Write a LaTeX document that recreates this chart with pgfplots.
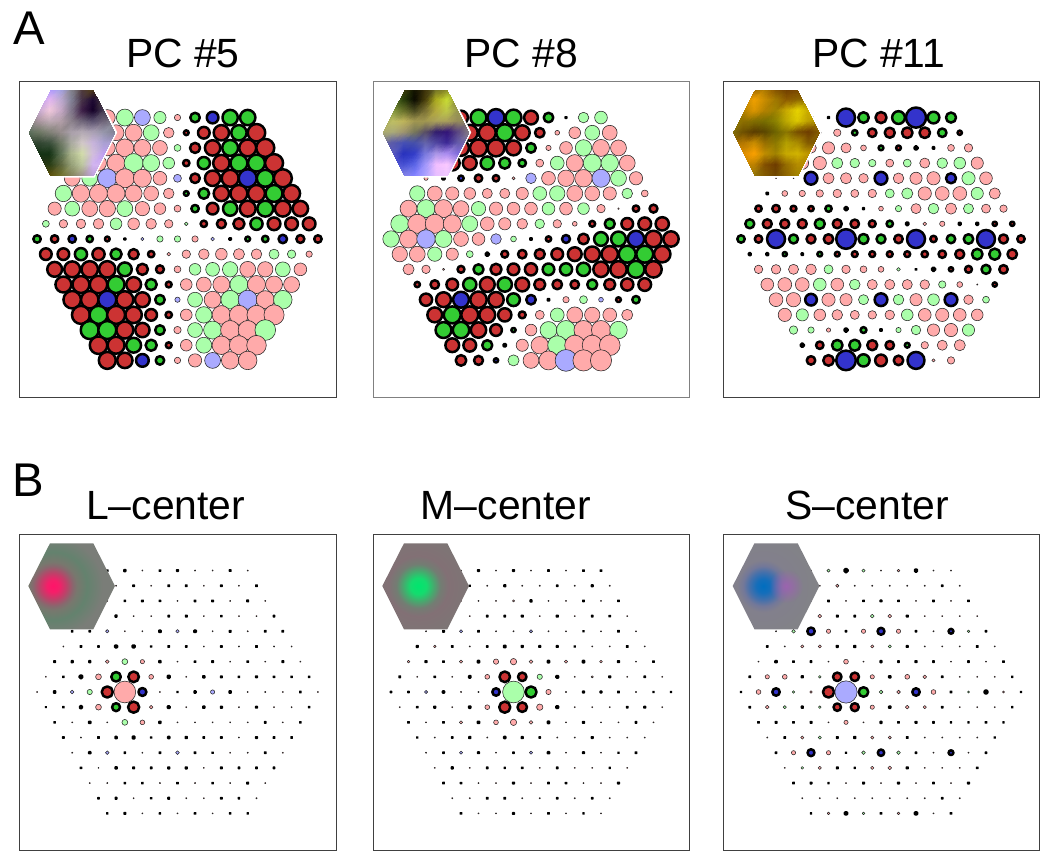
\documentclass[border=0pt]{standalone}
\usepackage{pgfplots}
\pgfplotsset{compat=1.18}
\usetikzlibrary{fadings}
\usepackage{fontspec}
\setmainfont{Liberation Sans}
\definecolor{cR}{RGB}{204,51,51}
\definecolor{cG}{RGB}{51,204,51}
\definecolor{cB}{RGB}{51,51,204}
\definecolor{cr}{RGB}{255,170,170}
\definecolor{cg}{RGB}{170,255,170}
\definecolor{cb}{RGB}{170,170,255}
\definecolor{purp}{RGB}{155,100,175}
\tikzfading[name=softblob,inner color=transparent!0,outer color=transparent!100]
\tikzset{
 kR/.style={draw=black,fill=cR,line width=2.5bp,line join=round},
 kG/.style={draw=black,fill=cG,line width=2.5bp,line join=round},
 kB/.style={draw=black,fill=cB,line width=2.5bp,line join=round},
 kr/.style={draw=black!85,fill=cr,line width=0.55bp,line join=round},
 kg/.style={draw=black!85,fill=cg,line width=0.55bp,line join=round},
 kb/.style={draw=black!85,fill=cb,line width=0.55bp,line join=round},
 ttl/.style={anchor=base west,inner sep=0pt,font=\fontsize{41}{41}\selectfont},
 let/.style={anchor=base west,inner sep=0pt,font=\fontsize{47.5}{47.5}\selectfont},
}
\pgfdeclareradialshading{spotL}{\pgfpointorigin}{rgb(0bp)=(1,.08,.41);rgb(1.5bp)=(.96,.12,.41);rgb(3.25bp)=(.75,.25,.41);rgb(5bp)=(.53,.41,.43);rgb(6bp)=(.47,.47,.43);rgb(8.5bp)=(.39,.51,.43);rgb(12.5bp)=(.48,.49,.47);rgb(50bp)=(.48,.49,.47)}
\pgfdeclareradialshading{spotM}{\pgfpointorigin}{rgb(0bp)=(0,.9,.43);rgb(2bp)=(.08,.86,.43);rgb(3.75bp)=(.27,.67,.43);rgb(5.5bp)=(.45,.49,.45);rgb(7.5bp)=(.51,.44,.46);rgb(12.5bp)=(.49,.46,.46);rgb(50bp)=(.49,.46,.46)}
\pgfdeclareradialshading{spotS}{\pgfpointorigin}{rgb(0bp)=(0,.43,.75);rgb(1.75bp)=(.08,.43,.73);rgb(3.5bp)=(.27,.44,.67);rgb(5bp)=(.45,.47,.6);rgb(6.5bp)=(.51,.5,.55);rgb(12.5bp)=(.51,.51,.53);rgb(50bp)=(.51,.51,.53)}
\def\hexA#1{(#1,728.7)--++(21.7,42.3)--++(43.3,0)--++(21.7,-42.3)--++(-21.7,-43.4)--++(-43.3,0)--cycle}
\def\hexB#1{(#1,275)--++(21.7,42.7)--++(43.3,0)--++(21.7,-42.7)--++(-21.7,-43.3)--++(-43.3,0)--cycle}
\pgfplotsset{cones/.style={anchor=south west,width=317bp,height=316bp,scale only axis,xmin=-18.06,xmax=18.06,ymin=-10.41,ymax=10.41,
 xtick=\empty,ytick=\empty,axis line style={black!75,line width=0.8bp},clip=false},
 cone plot/.style={scatter,only marks,mark=*,
  visualization depends on={value \thisrow{d}\as\dd},
  visualization depends on={value \thisrow{c}\as\cc},
  scatter/@pre marker code/.code={\scope[mark size=\dd*0.53bp,k\cc]},
  scatter/@post marker code/.code={\endscope}},
 inset/.style={anchor=south west,width=86.7bp,height=86.7bp,scale only axis,hide axis,xmin=0,xmax=8,ymin=0,ymax=8,y dir=reverse},
 inset plot/.style={surf,shader=interp,mesh/cols=9,mesh/color input=explicit mathparse,
  point meta={symbolic={\thisrow{r}/255,\thisrow{g}/255,\thisrow{b}/255}}}}
\begin{document}
\begin{tikzpicture}[x=1bp,y=1bp]
\useasboundingbox (0,0) rectangle (1050,861);
% PC #5
\begin{axis}[cones,at={(19bp,464bp)}]
\addplot[cone plot] table[row sep=\\]{x y c d\\
-8 8 r 15\\ -6 8 g 16\\ -4 8 b 15\\ -2 8 g 11.5\\ 0 8 r 6\\ 2 8 G 9\\ 4 8 B 11\\ 6 8 G 14.5\\ 8 8 G 14.5\\
-9 7 r 15\\ -7 7 r 15\\ -5 7 r 16\\ -3 7 g 15\\ -1 7 r 10\\ 1 7 R 4.5\\ 3 7 R 11\\ 5 7 R 14.5\\ 7 7 G 14.5\\ 9 7 R 16.5\\
-10 6 r 15\\ -8 6 r 15\\ -6 6 r 17\\ -4 6 r 16\\ -2 6 r 14\\ 0 6 g 6.5\\ 2 6 R 9.5\\ 4 6 R 14.5\\ 6 6 G 15\\ 8 6 R 16\\ 10 6 R 17\\
-11 5 r 15\\ -9 5 r 15\\ -7 5 r 17\\ -5 5 g 18\\ -3 5 g 16\\ -1 5 g 11\\ 1 5 R 6\\ 3 5 G 11.5\\ 5 5 R 15.5\\ 7 5 G 16\\ 9 5 G 16\\ 11 5 R 17\\
-12 4 r 15\\ -10 4 g 15\\ -8 4 b 18\\ -6 4 r 18\\ -4 4 r 17\\ -2 4 r 13\\ 0 4 b 7.5\\ 2 4 R 9\\ 4 4 R 14.5\\ 6 4 R 16\\ 8 4 B 17\\ 10 4 G 16\\ 12 4 R 17\\
-13 3 g 15.5\\ -11 3 r 16.5\\ -9 3 r 17\\ -7 3 r 17\\ -5 3 r 16\\ -3 3 r 14\\ -1 3 r 10\\ 1 3 G 4.5\\ 3 3 G 10\\ 5 3 R 14.5\\ 7 3 R 16\\ 9 3 R 16\\ 11 3 G 16\\ 13 3 R 16\\
-14 2 r 12.5\\ -12 2 g 14\\ -10 2 r 15\\ -8 2 r 15.5\\ -6 2 g 15\\ -4 2 r 13.5\\ -2 2 r 11\\ 0 2 r 6.5\\ 2 2 G 7\\ 4 2 R 11\\ 6 2 G 13.5\\ 8 2 R 15\\ 10 2 G 15\\ 12 2 R 15\\ 14 2 R 14.5\\
-15 1 g 6.5\\ -13 1 r 8\\ -11 1 r 9\\ -9 1 r 10\\ -7 1 g 11\\ -5 1 r 11\\ -3 1 r 10\\ -1 1 r 8\\ 1 1 g 3.5\\ 3 1 R 6\\ 5 1 R 8.5\\ 7 1 R 10.5\\ 9 1 G 11.5\\ 11 1 R 12\\ 13 1 R 12\\ 15 1 R 12\\
-16 0 G 7\\ -14 0 R 7\\ -12 0 B 7\\ -10 0 G 6\\ -8 0 R 4.5\\ -6 0 R 1.5\\ -4 0 b 3\\ -2 0 g 6\\ 0 0 g 6\\ 2 0 r 6\\ 4 0 b 3.5\\ 6 0 R 2\\ 8 0 G 4.5\\ 10 0 G 6\\ 12 0 B 8\\ 14 0 R 7.5\\ 16 0 R 7\\
-15 -1 R 11\\ -13 -1 R 11\\ -11 -1 G 11.5\\ -9 -1 R 11.5\\ -7 -1 G 10.5\\ -5 -1 R 9.5\\ -3 -1 R 6\\ -1 -1 r 3.5\\ 1 -1 r 8\\ 3 -1 r 10\\ 5 -1 r 11\\ 7 -1 r 10.5\\ 9 -1 r 10\\ 11 -1 g 9.5\\ 13 -1 g 8\\ 15 -1 r 6\\
-14 -2 R 14\\ -12 -2 R 15\\ -10 -2 R 15.5\\ -8 -2 R 15.5\\ -6 -2 G 13\\ -4 -2 R 10.5\\ -2 -2 R 7.5\\ 0 -2 r 6.5\\ 2 -2 g 11\\ 4 -2 g 13\\ 6 -2 g 14.5\\ 8 -2 r 15\\ 10 -2 r 14.5\\ 12 -2 g 14\\ 14 -2 r 12\\
-13 -3 R 15\\ -11 -3 R 16\\ -9 -3 R 16.5\\ -7 -3 G 16\\ -5 -3 R 14\\ -3 -3 G 10.5\\ -1 -3 R 5.5\\ 1 -3 r 11\\ 3 -3 r 14\\ 5 -3 r 16\\ 7 -3 g 17\\ 9 -3 r 17\\ 11 -3 r 16\\ 13 -3 r 15\\
-12 -4 R 16.5\\ -10 -4 R 16.5\\ -8 -4 B 17\\ -6 -4 R 16\\ -4 -4 R 14\\ -2 -4 G 9\\ 0 -4 b 5\\ 2 -4 g 14\\ 4 -4 r 16\\ 6 -4 g 17.5\\ 8 -4 b 18\\ 10 -4 r 17\\ 12 -4 g 17.5\\
-11 -5 R 17\\ -9 -5 G 17\\ -7 -5 R 17\\ -5 -5 R 15.5\\ -3 -5 R 11\\ -1 -5 R 6\\ 1 -5 r 11\\ 3 -5 g 15.5\\ 5 -5 r 17.5\\ 7 -5 r 18\\ 9 -5 r 18\\ 11 -5 r 19\\
-10 -6 G 17\\ -8 -6 G 17\\ -6 -6 R 16\\ -4 -6 R 13.5\\ -2 -6 G 9\\ 0 -6 r 7\\ 2 -6 g 14\\ 4 -6 g 17\\ 6 -6 r 18\\ 8 -6 r 18\\ 10 -6 g 19.5\\
-9 -7 R 16.5\\ -7 -7 R 16\\ -5 -7 G 14\\ -3 -7 G 10.5\\ -1 -7 R 5.5\\ 1 -7 r 11\\ 3 -7 g 15\\ 5 -7 r 17.5\\ 7 -7 r 18\\ 9 -7 r 18.5\\
-8 -8 R 16\\ -6 -8 R 14.5\\ -4 -8 B 12\\ -2 -8 G 8\\ 0 -8 r 6\\ 2 -8 r 12.5\\ 4 -8 b 15\\ 6 -8 r 16.5\\ 8 -8 r 17.5\\
};
\end{axis}
% PC #8
\begin{axis}[cones,at={(373bp,464bp)},width=316bp,axis line style={black!50,line width=0.8bp}]
\addplot[cone plot] table[row sep=\\]{x y c d\\
-8 8 R 13\\ -6 8 G 15\\ -4 8 B 16\\ -2 8 G 15\\ 0 8 R 13\\ 2 8 G 9\\ 4 8 R 1.2\\ 6 8 g 10\\ 8 8 g 12\\
-9 7 R 15\\ -7 7 R 15\\ -5 7 R 16\\ -3 7 G 16\\ -1 7 R 14\\ 1 7 R 9\\ 3 7 r 4.5\\ 5 7 r 11\\ 7 7 g 14\\ 9 7 r 14\\
-10 6 R 14\\ -8 6 R 15\\ -6 6 R 16\\ -4 6 R 16\\ -2 6 R 14\\ 0 6 G 9\\ 2 6 r 5\\ 4 6 r 12\\ 6 6 g 15.5\\ 8 6 r 16\\ 10 6 r 15\\
-11 5 R 12\\ -9 5 R 14\\ -7 5 R 13\\ -5 5 G 12.5\\ -3 5 G 10.5\\ -1 5 G 7\\ 1 5 r 7.5\\ 3 5 g 13\\ 5 5 r 16\\ 7 5 g 17\\ 9 5 g 16.5\\ 11 5 r 15\\
-12 4 r 4\\ -10 4 R 3\\ -8 4 B 5\\ -6 4 R 7\\ -4 4 R 6\\ -2 4 r 3\\ 0 4 b 10\\ 2 4 r 13\\ 4 4 r 15.5\\ 6 4 r 16.5\\ 8 4 b 17\\ 10 4 g 15\\ 12 4 r 12.5\\
-13 3 g 14.5\\ -11 3 r 14\\ -9 3 r 12.5\\ -7 3 r 11\\ -5 3 r 9.5\\ -3 3 r 9.5\\ -1 3 r 11.5\\ 1 3 g 13\\ 3 3 g 14.5\\ 5 3 r 15\\ 7 3 r 14\\ 9 3 r 12.5\\ 11 3 g 10\\ 13 3 r 6.5\\
-14 2 r 16\\ -12 2 g 17\\ -10 2 r 17\\ -8 2 r 15\\ -6 2 g 13.5\\ -4 2 r 12.5\\ -2 2 r 12\\ 0 2 r 12\\ 2 2 g 12\\ 4 2 r 12\\ 6 2 g 11\\ 8 2 r 8\\ 10 2 r 1.5\\ 12 2 R 6\\ 14 2 R 7.5\\
-15 1 g 17\\ -13 1 r 18\\ -11 1 r 18\\ -9 1 r 17\\ -7 1 g 15\\ -5 1 r 13\\ -3 1 r 11.5\\ -1 1 r 10\\ 1 1 g 9\\ 3 1 r 8\\ 5 1 r 4.5\\ 7 1 R 5.5\\ 9 1 G 9.5\\ 11 1 R 11\\ 13 1 R 12\\ 15 1 R 12.5\\
-16 0 g 15.5\\ -14 0 r 17\\ -12 0 b 17.5\\ -10 0 g 16\\ -8 0 r 14\\ -6 0 r 12\\ -4 0 b 10\\ -2 0 g 5.5\\ 0 0 R 2\\ 2 0 R 5\\ 4 0 B 7.5\\ 6 0 R 10\\ 8 0 G 13\\ 10 0 G 14\\ 12 0 B 15.5\\ 14 0 R 15.5\\ 16 0 R 14.5\\
-15 -1 r 14.5\\ -13 -1 r 15\\ -11 -1 g 13.5\\ -9 -1 r 11.5\\ -7 -1 g 6.5\\ -5 -1 R 3.5\\ -3 -1 R 6.5\\ -1 -1 R 8\\ 1 -1 R 9.5\\ 3 -1 R 11\\ 5 -1 R 13\\ 7 -1 R 14.5\\ 9 -1 R 15.5\\ 11 -1 G 16\\ 13 -1 G 16\\ 15 -1 R 15.5\\
-14 -2 r 10.5\\ -12 -2 r 8\\ -10 -2 r 2\\ -8 -2 R 6.5\\ -6 -2 G 9.5\\ -4 -2 R 10.5\\ -2 -2 R 11\\ 0 -2 R 11.5\\ 2 -2 G 11\\ 4 -2 G 11.5\\ 6 -2 G 12.5\\ 8 -2 R 14.5\\ 10 -2 R 15.5\\ 12 -2 G 16\\ 14 -2 R 15.5\\
-13 -3 R 5\\ -11 -3 R 8\\ -9 -3 R 11\\ -7 -3 G 12.5\\ -5 -3 R 14\\ -3 -3 G 13.5\\ -1 -3 R 13\\ 1 -3 R 10.5\\ 3 -3 R 9\\ 5 -3 R 8\\ 7 -3 G 9.5\\ 9 -3 R 10.5\\ 11 -3 R 11.5\\ 13 -3 R 12\\
-12 -4 R 11.5\\ -10 -4 R 14\\ -8 -4 B 15\\ -6 -4 R 15.5\\ -4 -4 R 14.5\\ -2 -4 G 12\\ 0 -4 B 9\\ 2 -4 R 2\\ 4 -4 r 6\\ 6 -4 g 7.5\\ 8 -4 b 4.5\\ 10 -4 R 4.5\\ 12 -4 G 7\\
-11 -5 R 14\\ -9 -5 G 16\\ -7 -5 R 16\\ -5 -5 R 15\\ -3 -5 R 12.5\\ -1 -5 R 6.5\\ 1 -5 r 8.5\\ 3 -5 g 13\\ 5 -5 r 15\\ 7 -5 r 14.5\\ 9 -5 r 13\\ 11 -5 r 10.5\\
-10 -6 G 15\\ -8 -6 G 15.5\\ -6 -6 R 14.5\\ -4 -6 R 11\\ -2 -6 G 4\\ 0 -6 r 11\\ 2 -6 g 16\\ 4 -6 g 18\\ 6 -6 r 18\\ 8 -6 r 18\\ 10 -6 g 16.5\\
-9 -7 R 13\\ -7 -7 R 12\\ -5 -7 G 9.5\\ -3 -7 R 3\\ -1 -7 r 11.5\\ 1 -7 r 16.5\\ 3 -7 g 18\\ 5 -7 r 19\\ 7 -7 r 19\\ 9 -7 r 19.5\\
-8 -8 R 10\\ -6 -8 R 8.5\\ -4 -8 B 4\\ -2 -8 g 10.5\\ 0 -8 r 15\\ 2 -8 r 18\\ 4 -8 b 20.5\\ 6 -8 r 20\\ 8 -8 r 20\\
};
\end{axis}
% PC #11
\begin{axis}[cones,at={(723bp,464bp)},width=316bp]
\addplot[cone plot] table[row sep=\\]{x y c d\\
-8 8 R 3\\ -6 8 R 1.5\\ -4 8 B 17\\ -2 8 G 10\\ 0 8 R 10.5\\ 2 8 G 12\\ 4 8 B 19\\ 6 8 G 11\\ 8 8 G 9.5\\
-9 7 r 5\\ -7 7 r 3\\ -5 7 r 7\\ -3 7 G 5\\ -1 7 R 8\\ 1 7 R 9.5\\ 3 7 R 10\\ 5 7 R 10\\ 7 7 G 8\\ 9 7 R 4\\
-10 6 r 10\\ -8 6 r 10\\ -6 6 r 11.5\\ -4 6 r 9.5\\ -2 6 r 5.5\\ 0 6 G 4.5\\ 2 6 R 4.5\\ 4 6 R 3.5\\ 6 6 R 2\\ 8 6 r 6.5\\ 10 6 r 8\\
-11 5 r 10\\ -9 5 r 12\\ -7 5 r 12.5\\ -5 5 g 10.5\\ -3 5 g 9\\ -1 5 g 7\\ 1 5 r 7.5\\ 3 5 g 7.5\\ 5 5 r 9.5\\ 7 5 g 10\\ 9 5 g 11\\ 11 5 r 11.5\\
-12 4 r 1\\ -10 4 r 1\\ -8 4 B 12\\ -6 4 r 10.5\\ -4 4 r 10.5\\ -2 4 r 9\\ 0 4 B 12\\ 2 4 r 10\\ 4 4 r 11.5\\ 6 4 r 12.5\\ 8 4 B 9.5\\ 10 4 g 12.5\\ 12 4 r 12\\
-13 3 R 2\\ -11 3 r 5.5\\ -9 3 r 6\\ -7 3 r 7\\ -5 3 r 8\\ -3 3 r 7.5\\ -1 3 r 8\\ 1 3 g 8.5\\ 3 3 g 10.5\\ 5 3 r 12.5\\ 7 3 r 13\\ 9 3 r 13\\ 11 3 g 11.5\\ 13 3 r 10.5\\
-14 2 R 6\\ -12 2 R 7\\ -10 2 R 5.5\\ -8 2 R 5\\ -6 2 G 6\\ -4 2 R 3.5\\ -2 2 R 1.5\\ 0 2 r 4.5\\ 2 2 g 6\\ 4 2 r 9.5\\ 6 2 g 10\\ 8 2 r 10.5\\ 10 2 g 9.5\\ 12 2 r 8.5\\ 14 2 r 7\\
-15 1 G 8.5\\ -13 1 R 8.5\\ -11 1 R 8.5\\ -9 1 R 8.5\\ -7 1 G 9.5\\ -5 1 R 8.5\\ -3 1 R 8\\ -1 1 R 6.5\\ 1 1 G 6\\ 3 1 R 3\\ 5 1 r 3.5\\ 7 1 r 5\\ 9 1 R 2.5\\ 11 1 R 2.5\\ 13 1 R 4\\ 15 1 R 4\\
-16 0 G 7\\ -14 0 R 7\\ -12 0 B 17\\ -10 0 G 8.5\\ -8 0 R 8.5\\ -6 0 R 9\\ -4 0 B 18.5\\ -2 0 G 9.5\\ 0 0 G 8.5\\ 2 0 R 8\\ 4 0 B 17\\ 6 0 R 6\\ 8 0 G 8\\ 10 0 G 9\\ 12 0 B 17\\ 14 0 R 8.5\\ 16 0 R 7\\
-15 -1 R 2.5\\ -13 -1 R 2.5\\ -11 -1 G 4\\ -9 -1 R 2\\ -7 -1 G 4.5\\ -5 -1 R 4.5\\ -3 -1 R 5.5\\ -1 -1 R 5.5\\ 1 -1 R 5.5\\ 3 -1 R 5.5\\ 5 -1 R 6\\ 7 -1 R 7\\ 9 -1 R 8.5\\ 11 -1 G 10\\ 13 -1 G 10.5\\ 15 -1 R 9\\
-14 -2 r 8\\ -12 -2 r 9\\ -10 -2 r 9.5\\ -8 -2 r 10\\ -6 -2 g 8.5\\ -4 -2 r 8\\ -2 -2 r 6.5\\ 0 -2 r 5.5\\ 2 -2 g 3.5\\ 4 -2 R 0.8\\ 6 -2 G 3.5\\ 8 -2 R 4\\ 10 -2 R 6.5\\ 12 -2 G 8.5\\ 14 -2 R 8\\
-13 -3 r 12\\ -11 -3 r 13\\ -9 -3 r 13\\ -7 -3 g 12\\ -5 -3 r 12\\ -3 -3 g 10\\ -1 -3 r 9.5\\ 1 -3 r 9.5\\ 3 -3 r 9.5\\ 5 -3 r 9\\ 7 -3 g 7\\ 9 -3 r 5.5\\ 11 -3 r 1.2\\ 13 -3 R 4\\
-12 -4 r 13\\ -10 -4 r 13.5\\ -8 -4 B 11\\ -6 -4 r 12.5\\ -4 -4 r 11.5\\ -2 -4 g 9.5\\ 0 -4 B 12\\ 2 -4 g 10\\ 4 -4 r 11.5\\ 6 -4 g 11\\ 8 -4 B 12\\ 10 -4 r 9\\ 12 -4 g 6.5\\
-11 -5 r 12.5\\ -9 -5 g 11.5\\ -7 -5 r 11\\ -5 -5 r 10\\ -3 -5 r 8.5\\ -1 -5 r 8\\ 1 -5 r 9\\ 3 -5 g 11\\ 5 -5 r 12\\ 7 -5 r 12.5\\ 9 -5 r 12\\ 11 -5 r 11\\
-10 -6 g 8\\ -8 -6 g 6\\ -6 -6 r 4\\ -4 -6 R 3.5\\ -2 -6 G 5.5\\ 0 -6 R 2\\ 2 -6 g 5\\ 4 -6 g 9\\ 6 -6 r 11.5\\ 8 -6 r 12.5\\ 10 -6 g 11.5\\
-9 -7 R 3.5\\ -7 -7 R 7\\ -5 -7 G 10\\ -3 -7 G 10.5\\ -1 -7 R 9.5\\ 1 -7 R 8\\ 3 -7 G 4.5\\ 5 -7 r 7\\ 7 -7 r 9.5\\ 9 -7 r 10.5\\
-8 -8 R 8\\ -6 -8 R 10\\ -4 -8 B 18.5\\ -2 -8 G 11.5\\ 0 -8 R 11\\ 2 -8 R 9\\ 4 -8 B 16\\ 6 -8 r 3\\ 8 -8 r 7\\
};
\end{axis}
% L-center
\begin{axis}[cones,at={(19bp,11bp)}]
\addplot[cone plot] table[row sep=\\]{x y c d\\
-8 8 R 0.8\\ -6 8 R 1.5\\ -4 8 r 1.2\\ -2 8 R 0.8\\ 0 8 R 1.2\\ 2 8 r 1.2\\ 4 8 r 1.2\\ 6 8 R 1\\ 8 8 r 1.2\\
-9 7 r 1.2\\ -7 7 r 1.2\\ -5 7 R 1\\ -3 7 r 1.2\\ -1 7 R 1\\ 1 7 R 1\\ 3 7 r 1.2\\ 5 7 R 1\\ 7 7 r 1.2\\ 9 7 R 1\\
-10 6 r 1.2\\ -8 6 r 1.2\\ -6 6 R 0.8\\ -4 6 R 1\\ -2 6 R 0.8\\ 0 6 r 1.2\\ 2 6 R 1\\ 4 6 R 1\\ 6 6 r 1.2\\ 8 6 R 1.2\\ 10 6 r 1.2\\
-11 5 r 1.2\\ -9 5 r 1.2\\ -7 5 R 1.5\\ -5 5 r 1.2\\ -3 5 r 1.2\\ -1 5 R 1\\ 1 5 R 1.2\\ 3 5 r 1.2\\ 5 5 R 0.8\\ 7 5 r 1.2\\ 9 5 r 1.2\\ 11 5 R 1\\
-12 4 R 0.8\\ -10 4 R 0.8\\ -8 4 b 3.2\\ -6 4 r 1.2\\ -4 4 r 1.2\\ -2 4 R 2\\ 0 4 b 3.2\\ 2 4 R 2\\ 4 4 r 1.2\\ 6 4 R 1.2\\ 8 4 r 1.2\\ 10 4 R 1\\ 12 4 R 1\\
-13 3 r 1.2\\ -11 3 R 1\\ -9 3 R 0.8\\ -7 3 R 2.5\\ -5 3 R 2.5\\ -3 3 R 0.6\\ -1 3 R 1\\ 1 3 R 0.8\\ 3 3 r 1.2\\ 5 3 R 1\\ 7 3 r 1.2\\ 9 3 R 1\\ 11 3 r 1.2\\ 13 3 r 1.2\\
-14 2 R 1.2\\ -12 2 G 1.5\\ -10 2 R 1.5\\ -8 2 r 3.5\\ -6 2 g 5.5\\ -4 2 r 4\\ -2 2 R 1.7\\ 0 2 r 1.2\\ 2 2 R 0.8\\ 4 2 R 1\\ 6 2 r 1.2\\ 8 2 R 0.8\\ 10 2 r 1.2\\ 12 2 R 1.2\\ 14 2 r 1.2\\
-15 1 r 1.2\\ -13 1 R 0.8\\ -11 1 R 3\\ -9 1 r 5.5\\ -7 1 G 9\\ -5 1 R 10\\ -3 1 r 4.5\\ -1 1 R 2.5\\ 1 1 r 1.2\\ 3 1 R 1.7\\ 5 1 R 1.2\\ 7 1 R 0.8\\ 9 1 R 1.2\\ 11 1 R 0.8\\ 13 1 R 0.8\\ 15 1 R 0.6\\
-16 0 r 1.2\\ -14 0 R 1.7\\ -12 0 b 3.5\\ -10 0 g 5\\ -8 0 R 10.5\\ -6 0 r 20.5\\ -4 0 B 7.5\\ -2 0 r 1.2\\ 0 0 R 0.6\\ 2 0 R 1.7\\ 4 0 b 4\\ 6 0 R 1.7\\ 8 0 r 1.2\\ 10 0 r 1.2\\ 12 0 r 1.2\\ 14 0 R 0.8\\ 16 0 r 1.2\\
-15 -1 R 0.3\\ -13 -1 R 0.8\\ -11 -1 R 2.5\\ -9 -1 r 5.5\\ -7 -1 G 7.5\\ -5 -1 R 10.5\\ -3 -1 r 3.5\\ -1 -1 R 2.2\\ 1 -1 r 1.2\\ 3 -1 R 1.7\\ 5 -1 R 1.4\\ 7 -1 r 1.2\\ 9 -1 R 1.2\\ 11 -1 r 1.2\\ 13 -1 r 1.2\\ 15 -1 R 0.6\\
-14 -2 R 0.8\\ -12 -2 r 1.2\\ -10 -2 R 1.7\\ -8 -2 r 1.2\\ -6 -2 g 5.5\\ -4 -2 r 4.5\\ -2 -2 R 1.7\\ 0 -2 r 1.2\\ 2 -2 r 1.2\\ 4 -2 r 1.2\\ 6 -2 r 1.2\\ 8 -2 r 1.2\\ 10 -2 R 1\\ 12 -2 r 1.2\\ 14 -2 R 0.8\\
-13 -3 R 1\\ -11 -3 r 1.2\\ -9 -3 R 1\\ -7 -3 R 1.7\\ -5 -3 R 2.2\\ -3 -3 R 0.6\\ -1 -3 R 1.7\\ 1 -3 R 1.5\\ 3 -3 R 1\\ 5 -3 R 1\\ 7 -3 r 1.2\\ 9 -3 R 1.2\\ 11 -3 R 1\\ 13 -3 R 0.8\\
-12 -4 r 1.2\\ -10 -4 R 1.7\\ -8 -4 b 3.5\\ -6 -4 R 0.8\\ -4 -4 r 1.2\\ -2 -4 R 1\\ 0 -4 b 3.5\\ 2 -4 R 1\\ 4 -4 R 0.6\\ 6 -4 r 1.2\\ 8 -4 r 1.2\\ 10 -4 R 1\\ 12 -4 r 1.2\\
-11 -5 R 0.8\\ -9 -5 r 1\\ -7 -5 R 1.7\\ -5 -5 R 1\\ -3 -5 R 1\\ -1 -5 R 1.4\\ 1 -5 R 1.4\\ 3 -5 r 1.2\\ 5 -5 R 1\\ 7 -5 R 1\\ 9 -5 R 1\\ 11 -5 R 1\\
-10 -6 r 1.2\\ -8 -6 r 1.2\\ -6 -6 R 0.8\\ -4 -6 R 0.8\\ -2 -6 r 1.2\\ 0 -6 R 0.8\\ 2 -6 r 1.2\\ 4 -6 R 0.6\\ 6 -6 r 1.2\\ 8 -6 R 1.2\\ 10 -6 r 1.2\\
-9 -7 R 0.8\\ -7 -7 R 1.2\\ -5 -7 r 1.2\\ -3 -7 R 0.6\\ -1 -7 R 1.2\\ 1 -7 r 1.2\\ 3 -7 r 1.2\\ 5 -7 R 1\\ 7 -7 R 0.8\\ 9 -7 r 1.2\\
-8 -8 R 0.6\\ -6 -8 R 1.2\\ -4 -8 r 1.2\\ -2 -8 R 0.6\\ 0 -8 r 1.2\\ 2 -8 R 0.8\\ 4 -8 r 1.2\\ 6 -8 R 0.6\\ 8 -8 R 0.6\\
};
\end{axis}
% M-center
\begin{axis}[cones,at={(373bp,11bp)},width=316bp]
\addplot[cone plot] table[row sep=\\]{x y c d\\
-8 8 r 1.2\\ -6 8 R 1.2\\ -4 8 r 1.2\\ -2 8 R 1.2\\ 0 8 r 1.2\\ 2 8 R 1\\ 4 8 r 1.2\\ 6 8 R 0.8\\ 8 8 R 0.8\\
-9 7 r 1.2\\ -7 7 R 0.6\\ -5 7 r 1.2\\ -3 7 R 1.4\\ -1 7 r 1.2\\ 1 7 r 1.2\\ 3 7 R 0.8\\ 5 7 r 1.2\\ 7 7 R 1.2\\ 9 7 r 1.2\\
-10 6 r 1.2\\ -8 6 r 1.2\\ -6 6 r 1.2\\ -4 6 r 1.2\\ -2 6 r 2\\ 0 6 R 1.5\\ 2 6 r 1.2\\ 4 6 r 1.2\\ 6 6 R 1\\ 8 6 r 1.2\\ 10 6 R 0.8\\
-11 5 r 1.2\\ -9 5 r 1.2\\ -7 5 r 1.2\\ -5 5 R 1\\ -3 5 R 1\\ -1 5 R 1.2\\ 1 5 r 1.2\\ 3 5 R 1.3\\ 5 5 r 1.2\\ 7 5 R 1\\ 9 5 R 0.8\\ 11 5 r 1.2\\
-12 4 r 1.2\\ -10 4 R 1.2\\ -8 4 b 3\\ -6 4 R 1\\ -4 4 r 1.2\\ -2 4 r 1.2\\ 0 4 b 3\\ 2 4 r 1.2\\ 4 4 r 1.2\\ 6 4 R 0.6\\ 8 4 r 1.2\\ 10 4 R 1\\ 12 4 r 1.2\\
-13 3 R 1.3\\ -11 3 r 2.5\\ -9 3 R 1\\ -7 3 r 1.2\\ -5 3 R 0.8\\ -3 3 R 2\\ -1 3 R 1.4\\ 1 3 R 1.2\\ 3 3 R 1.2\\ 5 3 R 0.6\\ 7 3 r 1.2\\ 9 3 r 1.2\\ 11 3 R 1\\ 13 3 r 1.2\\
-14 2 r 2.5\\ -12 2 R 1.3\\ -10 2 R 0.8\\ -8 2 r 3\\ -6 2 R 1.9\\ -4 2 r 5\\ -2 2 r 6\\ 0 2 r 3.5\\ 2 2 R 1.9\\ 4 2 r 3\\ 6 2 R 1.9\\ 8 2 r 2.5\\ 10 2 R 1.3\\ 12 2 r 1.2\\ 14 2 R 0.8\\
-15 1 R 1.1\\ -13 1 r 1.2\\ -11 1 R 0.8\\ -9 1 r 1.2\\ -7 1 R 2\\ -5 1 r 4.5\\ -3 1 R 10\\ -1 1 R 8\\ 1 1 g 5\\ 3 1 R 2.2\\ 5 1 r 1.2\\ 7 1 r 2\\ 9 1 R 1.2\\ 11 1 r 1.2\\ 13 1 R 1\\ 15 1 r 1.2\\
-16 0 R 0.8\\ -14 0 R 0.8\\ -12 0 b 3\\ -10 0 R 1.7\\ -8 0 r 1.2\\ -6 0 r 1.2\\ -4 0 B 7\\ -2 0 g 20.5\\ 0 0 G 10.5\\ 2 0 r 5\\ 4 0 r 1.2\\ 6 0 R 1.2\\ 8 0 R 1.2\\ 10 0 R 1\\ 12 0 r 1.2\\ 14 0 R 0.6\\ 16 0 R 0.6\\
-15 -1 r 1.2\\ -13 -1 R 0.8\\ -11 -1 R 1.4\\ -9 -1 r 1.2\\ -7 -1 R 1.9\\ -5 -1 r 4.5\\ -3 -1 R 10.5\\ -1 -1 R 9\\ 1 -1 r 6\\ 3 -1 R 2.2\\ 5 -1 r 1.2\\ 7 -1 r 1.2\\ 9 -1 r 1.2\\ 11 -1 R 1\\ 13 -1 R 1.2\\ 15 -1 r 1.2\\
-14 -2 R 0.8\\ -12 -2 r 1.2\\ -10 -2 R 0.8\\ -8 -2 r 3\\ -6 -2 R 1.7\\ -4 -2 r 4.5\\ -2 -2 r 6\\ 0 -2 r 3.5\\ 2 -2 R 2\\ 4 -2 r 1.2\\ 6 -2 R 1.2\\ 8 -2 r 1.2\\ 10 -2 r 1.2\\ 12 -2 R 1\\ 14 -2 r 1.2\\
-13 -3 R 0.6\\ -11 -3 r 1.2\\ -9 -3 R 0.8\\ -7 -3 R 1.4\\ -5 -3 r 1.2\\ -3 -3 G 1.7\\ -1 -3 R 1.4\\ 1 -3 R 0.8\\ 3 -3 r 1.2\\ 5 -3 r 1.2\\ 7 -3 R 1.2\\ 9 -3 r 1.2\\ 11 -3 r 1.2\\ 13 -3 r 1.2\\
-12 -4 r 1.2\\ -10 -4 R 0.8\\ -8 -4 b 3\\ -6 -4 R 1.2\\ -4 -4 r 1.2\\ -2 -4 R 0.8\\ 0 -4 b 3\\ 2 -4 R 1.7\\ 4 -4 r 1.2\\ 6 -4 R 1.2\\ 8 -4 r 1.2\\ 10 -4 R 0.6\\ 12 -4 R 1\\
-11 -5 r 1.2\\ -9 -5 R 1.5\\ -7 -5 r 1.2\\ -5 -5 R 1\\ -3 -5 R 0.6\\ -1 -5 R 0.8\\ 1 -5 r 1.2\\ 3 -5 R 1\\ 5 -5 r 1.2\\ 7 -5 r 1.2\\ 9 -5 R 0.6\\ 11 -5 r 1.2\\
-10 -6 R 1\\ -8 -6 R 0.8\\ -6 -6 r 1.2\\ -4 -6 r 1.2\\ -2 -6 R 1.2\\ 0 -6 r 1.2\\ 2 -6 R 1\\ 4 -6 R 0.8\\ 6 -6 r 1.2\\ 8 -6 r 1.2\\ 10 -6 R 1.2\\
-9 -7 r 1.2\\ -7 -7 r 1.2\\ -5 -7 R 1\\ -3 -7 R 1\\ -1 -7 r 1.2\\ 1 -7 r 1.2\\ 3 -7 R 0.8\\ 5 -7 r 1.2\\ 7 -7 R 0.8\\ 9 -7 r 1.2\\
-8 -8 R 0.8\\ -6 -8 r 1.2\\ -4 -8 r 1.2\\ -2 -8 R 1.2\\ 0 -8 r 1.2\\ 2 -8 R 0.8\\ 4 -8 r 1.2\\ 6 -8 R 0.6\\ 8 -8 r 1.2\\
};
\end{axis}
% S-center
\begin{axis}[cones,at={(723bp,11bp)},width=316bp]
\addplot[cone plot] table[row sep=\\]{x y c d\\
-8 8 r 1.2\\ -6 8 g 3\\ -4 8 B 3.5\\ -2 8 g 3\\ 0 8 r 1.2\\ 2 8 r 2.5\\ 4 8 R 2.5\\ 6 8 r 1.2\\ 8 8 r 1.2\\
-9 7 r 1.2\\ -7 7 r 1.2\\ -5 7 r 3\\ -3 7 r 1.2\\ -1 7 r 1.2\\ 1 7 r 1.2\\ 3 7 r 1.2\\ 5 7 r 1.2\\ 7 7 R 0.8\\ 9 7 r 1.2\\
-10 6 r 1.2\\ -8 6 r 1.2\\ -6 6 R 1\\ -4 6 r 1.2\\ -2 6 R 0.8\\ 0 6 R 1.2\\ 2 6 R 0.8\\ 4 6 r 1.2\\ 6 6 R 1\\ 8 6 r 1.2\\ 10 6 R 0.8\\
-11 5 r 1.2\\ -9 5 r 1.2\\ -7 5 r 3.5\\ -5 5 R 1.2\\ -3 5 R 1\\ -1 5 g 3.5\\ 1 5 r 3.5\\ 3 5 R 1.2\\ 5 5 r 1.2\\ 7 5 r 1.2\\ 9 5 r 1.2\\ 11 5 r 1.2\\
-12 4 r 1.2\\ -10 4 g 3.5\\ -8 4 B 7\\ -6 4 r 4\\ -4 4 R 0.8\\ -2 4 r 4\\ 0 4 B 6.5\\ 2 4 r 4\\ 4 4 R 0.8\\ 6 4 r 1.2\\ 8 4 B 4.5\\ 10 4 g 2.5\\ 12 4 R 0.8\\
-13 3 R 0.8\\ -11 3 r 1.2\\ -9 3 r 3\\ -7 3 r 3\\ -5 3 R 1.4\\ -3 3 R 1.5\\ -1 3 r 3\\ 1 3 g 3\\ 3 3 R 1.2\\ 5 3 r 1.2\\ 7 3 r 1.2\\ 9 3 r 1.2\\ 11 3 R 1\\ 13 3 r 1.2\\
-14 2 r 1.2\\ -12 2 R 1.7\\ -10 2 R 0.8\\ -8 2 R 1\\ -6 2 r 1.2\\ -4 2 r 4.5\\ -2 2 r 1.2\\ 0 2 R 1.5\\ 2 2 R 1\\ 4 2 R 1.3\\ 6 2 R 1\\ 8 2 r 1.2\\ 10 2 R 1\\ 12 2 r 1.2\\ 14 2 R 0.8\\
-15 1 R 1\\ -13 1 r 4\\ -11 1 r 4.5\\ -9 1 R 1.5\\ -7 1 g 2.5\\ -5 1 R 8\\ -3 1 R 8\\ -1 1 r 4\\ 1 1 R 1.7\\ 3 1 r 4.5\\ 5 1 r 3.5\\ 7 1 R 1\\ 9 1 r 1.2\\ 11 1 r 1.2\\ 13 1 r 1.2\\ 15 1 R 0.6\\
-16 0 R 0.6\\ -14 0 r 4.5\\ -12 0 B 7\\ -10 0 g 2.5\\ -8 0 r 2.5\\ -6 0 R 10.5\\ -4 0 b 21\\ -2 0 G 9\\ 0 0 g 3.5\\ 2 0 r 3.5\\ 4 0 B 7\\ 6 0 r 4.5\\ 8 0 R 1\\ 10 0 g 2\\ 12 0 B 3.5\\ 14 0 r 2\\ 16 0 R 0.6\\
-15 -1 R 1\\ -13 -1 r 3.5\\ -11 -1 g 3\\ -9 -1 R 1.5\\ -7 -1 g 2.5\\ -5 -1 R 7\\ -3 -1 R 7.5\\ -1 -1 r 4\\ 1 -1 R 1.7\\ 3 -1 r 3.5\\ 5 -1 r 3\\ 7 -1 R 1\\ 9 -1 r 1.2\\ 11 -1 r 1.2\\ 13 -1 r 1.2\\ 15 -1 R 0.6\\
-14 -2 R 0.8\\ -12 -2 R 1.2\\ -10 -2 R 0.8\\ -8 -2 R 1.2\\ -6 -2 r 1.2\\ -4 -2 r 4\\ -2 -2 r 1.2\\ 0 -2 R 1.5\\ 2 -2 R 0.8\\ 4 -2 R 1.2\\ 6 -2 R 1\\ 8 -2 R 0.6\\ 10 -2 R 0.6\\ 12 -2 R 0.8\\ 14 -2 R 0.6\\
-13 -3 r 1.2\\ -11 -3 R 1\\ -9 -3 r 3\\ -7 -3 g 3\\ -5 -3 R 1.2\\ -3 -3 R 1.5\\ -1 -3 r 3\\ 1 -3 r 3\\ 3 -3 R 1\\ 5 -3 r 1.2\\ 7 -3 r 1.2\\ 9 -3 r 1.2\\ 11 -3 r 1.2\\ 13 -3 R 0.6\\
-12 -4 R 0.8\\ -10 -4 r 4\\ -8 -4 B 6.5\\ -6 -4 r 4\\ -4 -4 R 0.6\\ -2 -4 g 3.5\\ 0 -4 B 6\\ 2 -4 g 3.5\\ 4 -4 R 0.8\\ 6 -4 r 1.2\\ 8 -4 B 4.5\\ 10 -4 r 1.2\\ 12 -4 R 0.8\\
-11 -5 r 1.2\\ -9 -5 g 2.5\\ -7 -5 r 3\\ -5 -5 R 1.2\\ -3 -5 R 0.6\\ -1 -5 r 3\\ 1 -5 r 3.5\\ 3 -5 R 1.2\\ 5 -5 r 1.2\\ 7 -5 r 1.2\\ 9 -5 r 1.2\\ 11 -5 R 0.8\\
-10 -6 R 1\\ -8 -6 R 1.2\\ -6 -6 R 0.6\\ -4 -6 r 1.2\\ -2 -6 R 1.2\\ 0 -6 r 1.2\\ 2 -6 R 1.2\\ 4 -6 r 1.2\\ 6 -6 R 1\\ 8 -6 r 1.2\\ 10 -6 R 1.2\\
-9 -7 r 1.2\\ -7 -7 r 1.2\\ -5 -7 r 1.2\\ -3 -7 r 1.2\\ -1 -7 r 1.2\\ 1 -7 r 1.2\\ 3 -7 r 1.2\\ 5 -7 r 1.2\\ 7 -7 R 0.8\\ 9 -7 r 1.2\\
-8 -8 R 0.6\\ -6 -8 r 2.5\\ -4 -8 R 2.7\\ -2 -8 g 2.5\\ 0 -8 R 0.8\\ 2 -8 r 2.5\\ 4 -8 R 2.7\\ 6 -8 r 1.2\\ 8 -8 R 0.8\\
};
\end{axis}
% white halos round the insets of the top row
\fill[white,draw=white,line width=4bp] \hexA{28.3};
\fill[white,draw=white,line width=4bp] \hexA{382.3};
\fill[white,draw=white,line width=4bp] \hexA{732.7};
% insets of the top row
\begin{scope}
\clip \hexA{28.3};
\begin{axis}[inset,at={(28.3bp,685.3bp)}]
\addplot[inset plot] table[row sep=\\]{x y r g b\\
0 0 170 150 255\\ 1 0 170 150 255\\ 2 0 170 150 255\\ 3 0 160 160 230\\ 4 0 130 130 140\\ 5 0 80 60 60\\ 6 0 80 60 20\\ 7 0 80 60 20\\ 8 0 80 60 20\\
0 1 190 160 240\\ 1 1 190 160 240\\ 2 1 225 180 240\\ 3 1 190 170 210\\ 4 1 130 130 150\\ 5 1 70 50 70\\ 6 1 30 10 50\\ 7 1 80 70 70\\ 8 1 80 70 70\\
0 2 200 170 210\\ 1 2 200 170 210\\ 2 2 240 200 220\\ 3 2 200 170 200\\ 4 2 130 120 140\\ 5 2 60 30 70\\ 6 2 20 0 40\\ 7 2 70 60 80\\ 8 2 70 60 80\\
0 3 130 130 120\\ 1 3 170 150 160\\ 2 3 190 170 180\\ 3 3 180 160 170\\ 4 3 140 130 140\\ 5 3 110 100 120\\ 6 3 90 80 110\\ 7 3 110 100 120\\ 8 3 130 130 140\\
0 4 90 110 90\\ 1 4 110 120 100\\ 2 4 130 130 120\\ 3 4 150 140 140\\ 4 4 170 160 170\\ 5 4 180 170 180\\ 6 4 170 160 180\\ 7 4 150 150 170\\ 8 4 130 130 150\\
0 5 50 70 50\\ 1 5 50 70 50\\ 2 5 60 80 60\\ 3 5 110 120 100\\ 4 5 170 170 160\\ 5 5 210 200 200\\ 6 5 200 180 220\\ 7 5 170 160 210\\ 8 5 170 160 210\\
0 6 20 50 20\\ 1 6 20 50 20\\ 2 6 20 50 20\\ 3 6 90 110 80\\ 4 6 170 180 140\\ 5 6 210 220 170\\ 6 6 210 190 220\\ 7 6 190 160 240\\ 8 6 190 160 240\\
0 7 40 50 20\\ 1 7 40 50 20\\ 2 7 40 60 20\\ 3 7 90 100 60\\ 4 7 150 160 120\\ 5 7 190 200 160\\ 6 7 210 180 240\\ 7 7 210 180 240\\ 8 7 210 180 240\\
0 8 90 80 10\\ 1 8 90 80 10\\ 2 8 90 80 10\\ 3 8 110 110 40\\ 4 8 130 130 90\\ 5 8 160 150 140\\ 6 8 190 160 220\\ 7 8 190 160 220\\ 8 8 190 160 220\\
};
\end{axis}
\end{scope}
\begin{scope}
\clip \hexA{382.3};
\begin{axis}[inset,at={(382.3bp,685.3bp)}]
\addplot[inset plot] table[row sep=\\]{x y r g b\\
0 0 60 60 10\\ 1 0 60 60 10\\ 2 0 60 60 10\\ 3 0 20 20 0\\ 4 0 60 50 10\\ 5 0 110 110 40\\ 6 0 130 130 40\\ 7 0 130 130 40\\ 8 0 130 130 40\\
0 1 90 120 40\\ 1 1 90 120 40\\ 2 1 40 60 10\\ 3 1 10 10 0\\ 4 1 70 60 10\\ 5 1 170 170 30\\ 6 1 200 220 50\\ 7 1 130 130 60\\ 8 1 130 130 60\\
0 2 130 150 60\\ 1 2 130 150 60\\ 2 2 100 110 40\\ 3 2 70 70 30\\ 4 2 120 110 50\\ 5 2 180 170 60\\ 6 2 190 200 70\\ 7 2 150 150 80\\ 8 2 150 150 80\\
0 3 150 160 80\\ 1 3 190 190 100\\ 2 3 190 180 90\\ 3 3 160 150 80\\ 4 3 160 150 80\\ 5 3 170 160 90\\ 6 3 170 160 90\\ 7 3 150 140 90\\ 8 3 140 130 100\\
0 4 170 170 110\\ 1 4 170 170 120\\ 2 4 160 150 110\\ 3 4 120 120 90\\ 4 4 90 80 100\\ 5 4 50 30 110\\ 6 4 50 20 120\\ 7 4 90 70 130\\ 8 4 130 120 130\\
0 5 110 110 150\\ 1 5 90 90 170\\ 2 5 70 80 180\\ 3 5 70 80 170\\ 4 5 100 100 170\\ 5 5 80 70 160\\ 6 5 60 40 150\\ 7 5 100 90 170\\ 8 5 120 110 170\\
0 6 90 90 190\\ 1 6 90 90 190\\ 2 6 40 50 190\\ 3 6 50 60 200\\ 4 6 120 120 220\\ 5 6 170 150 230\\ 6 6 170 140 240\\ 7 6 130 110 220\\ 8 6 130 110 220\\
0 7 90 90 210\\ 1 7 90 90 210\\ 2 7 70 80 210\\ 3 7 90 100 230\\ 4 7 160 150 250\\ 5 7 240 190 255\\ 6 7 250 200 255\\ 7 7 200 170 250\\ 8 7 200 170 250\\
0 8 130 130 230\\ 1 8 130 130 230\\ 2 8 130 130 230\\ 3 8 130 130 255\\ 4 8 170 160 255\\ 5 8 230 190 255\\ 6 8 240 200 255\\ 7 8 240 200 255\\ 8 8 240 200 255\\
};
\end{axis}
\end{scope}
\begin{scope}
\clip \hexA{732.7};
\begin{axis}[inset,at={(732.7bp,685.3bp)}]
\addplot[inset plot] table[row sep=\\]{x y r g b\\
0 0 150 100 0\\ 1 0 150 100 0\\ 2 0 150 100 0\\ 3 0 170 120 0\\ 4 0 130 80 0\\ 5 0 110 60 0\\ 6 0 120 70 0\\ 7 0 120 70 0\\ 8 0 120 70 0\\
0 1 190 130 10\\ 1 1 190 130 10\\ 2 1 240 160 0\\ 3 1 200 140 0\\ 4 1 160 120 0\\ 5 1 140 90 0\\ 6 1 140 100 0\\ 7 1 140 110 0\\ 8 1 140 110 0\\
0 2 180 130 0\\ 1 2 180 130 0\\ 2 2 220 150 0\\ 3 2 180 130 0\\ 4 2 160 130 0\\ 5 2 200 170 0\\ 6 2 230 210 0\\ 7 2 200 170 0\\ 8 2 200 170 0\\
0 3 140 120 0\\ 1 3 140 110 0\\ 2 3 130 110 0\\ 3 3 120 110 0\\ 4 3 140 130 0\\ 5 3 190 170 0\\ 6 3 220 200 0\\ 7 3 190 160 0\\ 8 3 170 140 0\\
0 4 130 110 10\\ 1 4 110 80 0\\ 2 4 90 60 0\\ 3 4 90 70 0\\ 4 4 110 100 0\\ 5 4 140 120 0\\ 6 4 120 80 0\\ 7 4 110 60 0\\ 8 4 130 90 0\\
0 5 160 110 0\\ 1 5 180 120 0\\ 2 5 200 140 0\\ 3 5 150 110 0\\ 4 5 140 120 0\\ 5 5 180 160 0\\ 6 5 170 140 0\\ 7 5 130 90 0\\ 8 5 130 90 0\\
0 6 220 140 0\\ 1 6 220 140 0\\ 2 6 250 160 0\\ 3 6 190 140 0\\ 4 6 160 130 0\\ 5 6 200 170 0\\ 6 6 210 180 0\\ 7 6 190 150 0\\ 8 6 190 150 0\\
0 7 190 130 0\\ 1 7 190 130 0\\ 2 7 190 130 0\\ 3 7 130 80 0\\ 4 7 110 60 0\\ 5 7 150 110 0\\ 6 7 180 140 0\\ 7 7 180 140 0\\ 8 7 180 140 0\\
0 8 150 120 10\\ 1 8 150 120 10\\ 2 8 150 120 10\\ 3 8 130 90 0\\ 4 8 110 70 0\\ 5 8 140 100 0\\ 6 8 160 130 0\\ 7 8 160 130 0\\ 8 8 160 130 0\\
};
\end{axis}
\end{scope}
% insets of the bottom row
\begin{scope}
\clip \hexB{28.3};
\shade[shading=spotL] (53,275) circle (100);
\end{scope}
\begin{scope}
\clip \hexB{382.3};
\shade[shading=spotM] (418.3,275) circle (100);
\end{scope}
\begin{scope}
\clip \hexB{732.7};
\shade[shading=spotS] (763.3,275) circle (100);
\fill[purp,path fading=softblob] (786,275) circle (17);
\end{scope}
% text
\node[let] at (13.5,816.7) {A};
\node[let] at (12.3,364.3) {B};
\node[ttl] at (126,793.5) {PC \#5};
\node[ttl] at (464.3,793.5) {PC \#8};
\node[ttl] at (812,793.5) {PC \#11};
\node[ttl] at (86,341) {L–center};
\node[ttl] at (420.7,341) {M–center};
\node[ttl] at (785,341) {S–center};
\end{tikzpicture}
\end{document}
